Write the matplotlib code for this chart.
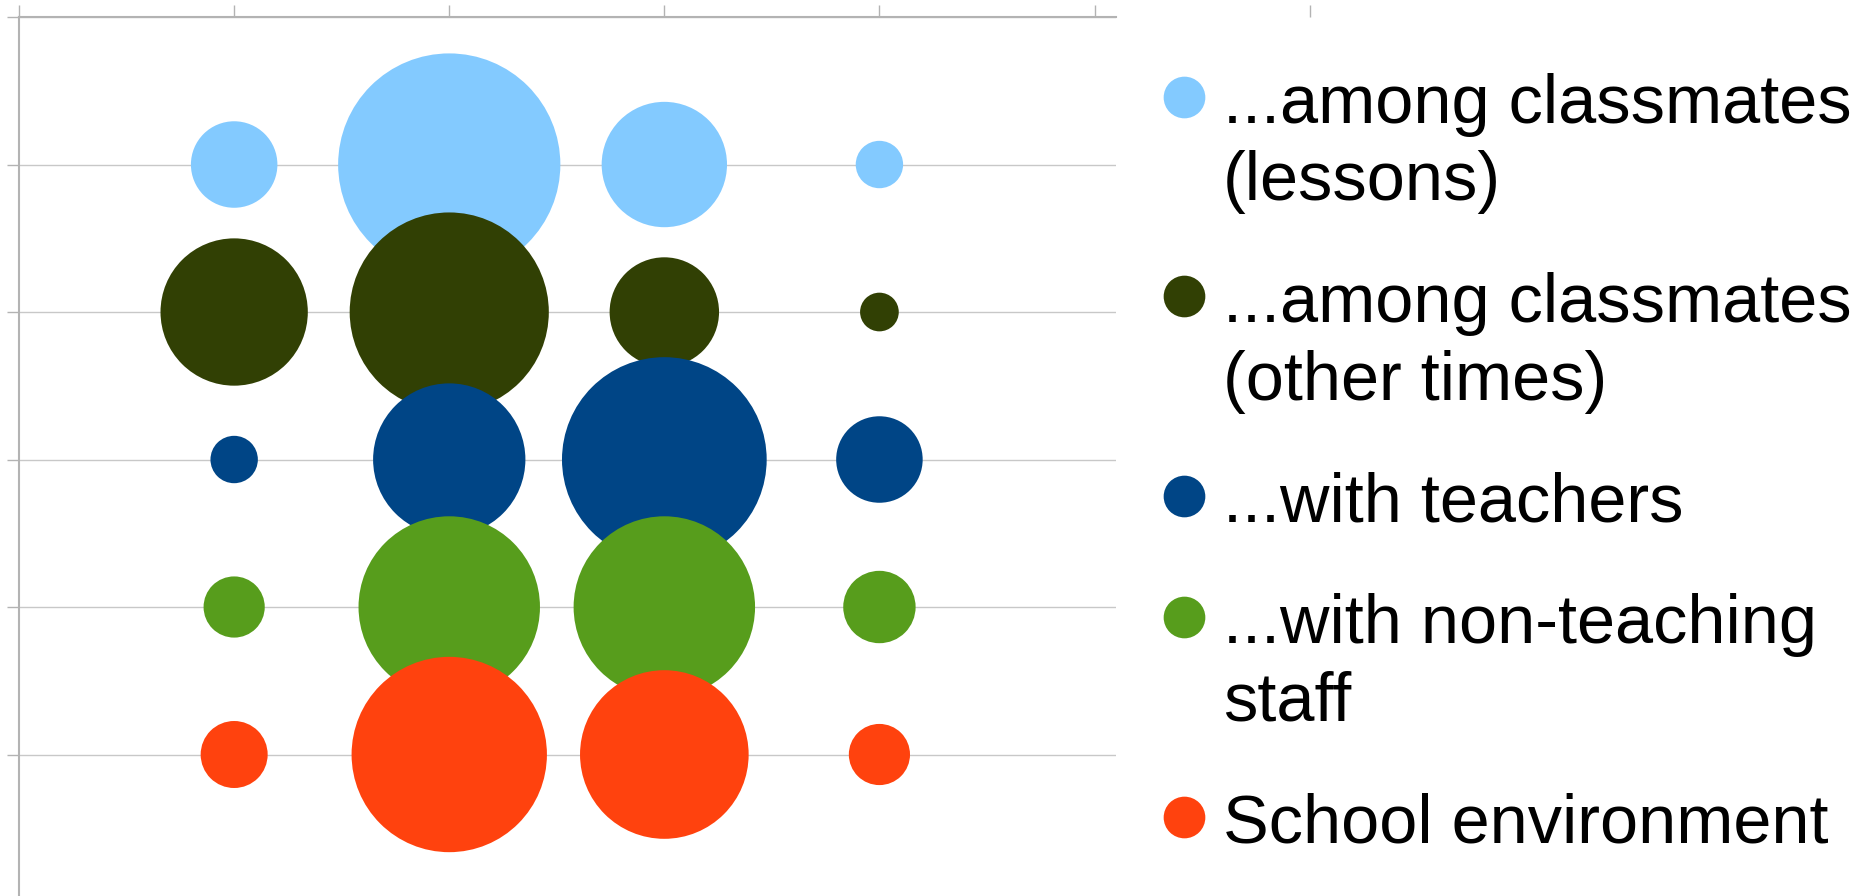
import matplotlib
matplotlib.use("Agg")
import matplotlib.pyplot as plt
from matplotlib.lines import Line2D
from matplotlib.transforms import blended_transform_factory

plt.rcParams['font.family'] = ['Liberation Sans', 'DejaVu Sans']

# share of answers (%) per row, columns 1..4
series = [
    "...among classmates\n(lessons)",
    "...among classmates\n(other times)",
    "...with teachers",
    "...with non-teaching\nstaff",
    "School environment",
]
x_pos = [1, 2, 3, 4]
values = [
    [10, 66, 21, 3],
    [29, 53, 16, 2],
    [3, 31, 56, 10],
    [5, 44, 44, 7],
    [6, 51, 38, 5],
]
colors = ["#83CAFF", "#314004", "#004586", "#579D1C", "#FF420E"]

W, H = 1870, 896
fig = plt.figure(figsize=(W / 100, H / 100), dpi=100)
ax = fig.add_axes([0.0102, -0.0067, 0.5866, 0.9877])

vmax = max(max(r) for r in values)
dmax = 160  # diameter (pt) of the biggest bubble
for i, (vals, col) in enumerate(zip(values, colors)):
    sizes = [dmax ** 2 * v / vmax for v in vals]
    ax.scatter(x_pos, [i + 1] * len(x_pos), s=sizes, color=col, edgecolors='none', zorder=3 + i)

ax.set_xlim(0, 5.10)
ax.set_ylim(6, 0)
ax.set_xticks(range(0, 6))
ax.set_yticks(range(0, 6))
ax.xaxis.tick_top()
ax.tick_params(axis='both', length=9, width=1, color='#b3b3b3', labeltop=False, labelleft=False, labelbottom=False)
ax.grid(axis='y', color='#c8c8c8', linewidth=1)
ax.set_axisbelow(True)
for side in ['right', 'bottom']:
    ax.spines[side].set_visible(False)
for side in ['top', 'left']:
    ax.spines[side].set_color('#b3b3b3')
    ax.spines[side].set_linewidth(1.5)

# stray tick of the top axis beyond the plot area
trans = blended_transform_factory(ax.transData, ax.transAxes)
ax.plot([6], [1], marker=2, markersize=9, mec='#b3b3b3', mew=1, transform=trans, clip_on=False)

# legend, drawn by hand so the dot sits next to the first line
base = 122.7  # px from top, first baseline
for label, col in zip(series, colors):
    fig.add_artist(Line2D([1184 / W], [1 - (base - 26) / H], marker='o', markersize=30,
                          color=col, mec='none', transform=fig.transFigure))
    for k, line in enumerate(label.split("\n")):
        fig.text(1223 / W, 1 - (base + 77.5 * k) / H, line, fontsize=49.3, va='baseline', ha='left')
    base += 121.5 + 78 * label.count("\n")

fig.savefig("out.png", dpi=100)
